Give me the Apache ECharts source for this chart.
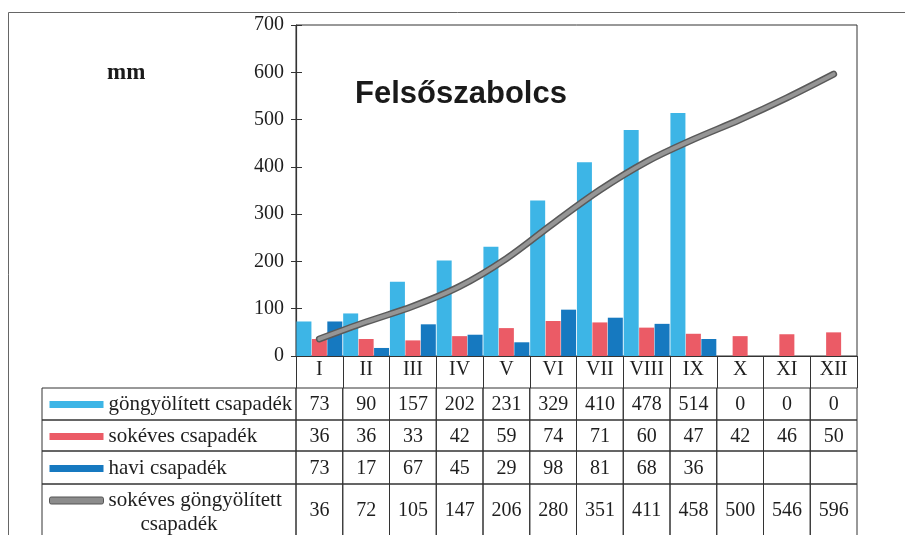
<!DOCTYPE html>
<html>
<head>
<meta charset="utf-8">
<script src="https://cdn.jsdelivr.net/npm/echarts@6/dist/echarts.min.js"></script>
<style>
html,body{margin:0;padding:0;background:#fff;}
#chart{width:905px;height:535px;}
</style>
</head>
<body>
<div id="chart"></div>
<script>
// ---- data ----
const categories = ['I','II','III','IV','V','VI','VII','VIII','IX','X','XI','XII'];
const gongyolitett = [73, 90, 157, 202, 231, 329, 410, 478, 514, 0, 0, 0];
const sokeves = [36, 36, 33, 42, 59, 74, 71, 60, 47, 42, 46, 50];
const havi = [73, 17, 67, 45, 29, 98, 81, 68, 36, null, null, null];
const sokevesGongy = [36, 72, 105, 147, 206, 280, 351, 411, 458, 500, 546, 596];
const seriesNames = ['göngyölített csapadék', 'sokéves csapadék', 'havi csapadék', 'sokéves göngyölített csapadék'];
const yMin = 0, yMax = 700, yStep = 100;

// ---- style / layout ----
const colors = ['#3db5e6', '#eb5b66', '#1679c0', '#8c8c8c'];
const serif = 'Liberation Serif';
const textColor = '#1e1e1e';
const lineColor = '#333';
const rowEdges = [0, 32, 63, 96, 170];   // table rows (layout units)
const tableMax = 147;
const legendColWidth = 254;

const tableRows = [gongyolitett, sokeves, havi, sokevesGongy];
const tableData = [];
tableRows.forEach((row, r) => row.forEach((v, c) => tableData.push([c, r])));

const chart = echarts.init(document.getElementById('chart'), null, {renderer: 'canvas'});

chart.setOption({
  animation: false,
  backgroundColor: '#fff',
  title: [
    {text: 'Felsőszabolcs', left: 355, top: 79, padding: 0,
     textStyle: {fontFamily: 'Liberation Sans', fontWeight: 'bold', fontSize: 31, color: '#1a1a1a'}},
    {text: 'mm', left: 107, top: 62, padding: 0,
     textStyle: {fontFamily: serif, fontWeight: 'bold', fontSize: 23, color: '#1a1a1a'}}
  ],
  graphic: [{
    type: 'rect', silent: true, z: -1,
    shape: {x: 8.5, y: 12.5, width: 1000, height: 600},
    style: {fill: 'none', stroke: '#666', lineWidth: 1}
  }],
  legend: {
    orient: 'horizontal', left: 49, top: 393, width: 120, padding: 0,
    itemWidth: 54, itemHeight: 7, itemGap: 9,
    selectedMode: false,
    textStyle: {fontFamily: serif, fontSize: 21, color: textColor, lineHeight: 23,
      rich: {e: {fontFamily: serif, fontSize: 21, lineHeight: 24},
             a: {fontFamily: serif, fontSize: 21, color: textColor, lineHeight: 24},
             b: {fontFamily: serif, fontSize: 21, color: textColor, lineHeight: 24, padding: [0, 0, 0, 32]}}},
    formatter: function (name) {
      if (name === seriesNames[3]) return '{e| }\n{a|sokéves göngyölített}\n{b|csapadék}';
      return name;
    },
    data: [
      {name: seriesNames[0], icon: 'rect'},
      {name: seriesNames[1], icon: 'rect'},
      {name: seriesNames[2], icon: 'rect'},
      {name: seriesNames[3], icon: 'roundRect', itemStyle: {color: '#8c8c8c', borderColor: '#555', borderWidth: 1}}
    ]
  },
  grid: [
    {left: 296, right: 48, top: 25, bottom: 179, show: true, borderColor: lineColor, borderWidth: 1, containLabel: false},
    {left: 296, right: 48, top: 388, height: tableMax, containLabel: false}
  ],
  xAxis: [
    {type: 'category', gridIndex: 0, data: categories, boundaryGap: true,
     axisLine: {show: true, lineStyle: {color: lineColor, width: 1.2}},
     axisTick: {show: true, interval: 0, inside: false, length: 32, alignWithLabel: false, lineStyle: {color: lineColor}},
     axisLabel: {interval: 0, margin: 4, fontFamily: serif, fontSize: 20, color: textColor},
     splitLine: {show: false}},
    {type: 'category', gridIndex: 1, data: categories, boundaryGap: true, show: false}
  ],
  yAxis: [
    {type: 'value', gridIndex: 0, min: yMin, max: yMax, interval: yStep,
     axisLine: {show: true, lineStyle: {color: lineColor, width: 1.2}},
     axisTick: {show: true, inside: false, length: 5, lineStyle: {color: lineColor}},
     axisLabel: {margin: 12, fontFamily: serif, fontSize: 20, color: textColor},
     splitLine: {show: false}},
    {type: 'value', gridIndex: 0, min: yMin, max: yMax, interval: yStep, position: 'left',
     axisLine: {show: false},
     axisTick: {show: true, inside: true, length: 6, lineStyle: {color: lineColor}},
     axisLabel: {show: false}, splitLine: {show: false}},
    {type: 'value', gridIndex: 1, min: 0, max: tableMax, inverse: true, show: false}
  ],
  series: [
    {name: seriesNames[0], type: 'bar', xAxisIndex: 0, yAxisIndex: 0, data: gongyolitett,
     barWidth: 15, barGap: '3%', itemStyle: {color: colors[0]}},
    {name: seriesNames[1], type: 'bar', xAxisIndex: 0, yAxisIndex: 0, data: sokeves,
     barWidth: 15, barGap: '3%', itemStyle: {color: colors[1]}},
    {name: seriesNames[2], type: 'bar', xAxisIndex: 0, yAxisIndex: 0, data: havi,
     barWidth: 15, barGap: '3%', itemStyle: {color: colors[2]}},
    {name: seriesNames[3], type: 'line', xAxisIndex: 0, yAxisIndex: 0, data: sokevesGongy,
     smooth: 0.35, showSymbol: false, symbol: 'none', z: 5,
     lineStyle: {color: '#5a5a5a', width: 7, cap: 'round', join: 'round'}, itemStyle: {color: '#8c8c8c'}},
    {name: 'line-core', type: 'line', xAxisIndex: 0, yAxisIndex: 0, data: sokevesGongy,
     smooth: 0.35, showSymbol: false, symbol: 'none', z: 6,
     lineStyle: {color: '#959595', width: 4, cap: 'round', join: 'round'}},
    {name: 'table', type: 'custom', xAxisIndex: 1, yAxisIndex: 2, data: tableData, clip: false, silent: true,
     renderItem: function (params, api) {
       const c = api.value(0), r = api.value(1);
       const cs = params.coordSys;
       const cx = api.coord([c, 0])[0];
       const w = api.size([1, 0])[0];
       const y0 = api.coord([c, rowEdges[r]])[1];
       const y1 = api.coord([c, rowEdges[r + 1]])[1];
       const yBottomVisible = api.coord([c, Math.min(rowEdges[r + 1], tableMax)])[1];
       const v = tableRows[r][c];
       const children = [
         {type: 'rect', shape: {x: cx - w / 2, y: y0, width: w, height: y1 - y0},
          style: {fill: 'none', stroke: lineColor, lineWidth: 1}},
         {type: 'text', style: {text: v === null ? '' : String(v), x: cx, y: (y0 + yBottomVisible) / 2 + 1,
          align: 'center', verticalAlign: 'middle', fontFamily: serif, fontSize: 20, fill: textColor}}
       ];
       if (c === 0) {
         children.push({type: 'rect', shape: {x: cs.x - legendColWidth, y: y0, width: legendColWidth, height: y1 - y0},
           style: {fill: 'none', stroke: lineColor, lineWidth: 1}});
       }
       return {type: 'group', children: children};
     }}
  ]
});
</script>
</body>
</html>
